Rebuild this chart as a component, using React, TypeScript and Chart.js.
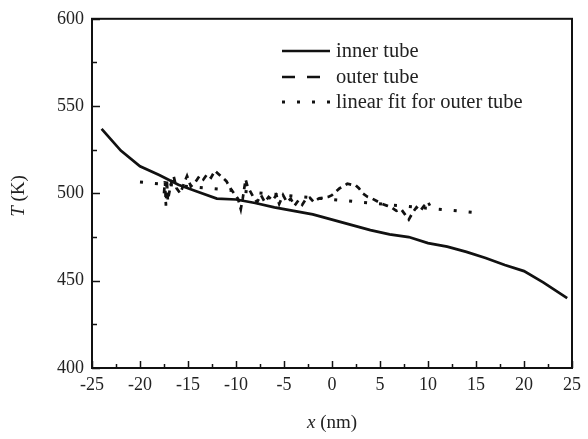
import React, { useEffect, useRef } from "react";
import { Chart, registerables } from "chart.js";

Chart.register(...registerables);

// ---- data ----
const innerX = [-24, -22, -20, -18, -16, -14, -12, -10, -8, -6, -4, -2, 0, 2, 4, 6, 8, 10, 12, 14, 16, 18, 20, 22, 24.5];
const innerT = [537, 524.5, 515.5, 510.5, 505, 501, 497, 496.5, 494.5, 492, 490, 488, 485, 482, 479, 476.5, 475, 471.5, 469.5, 466.5, 463, 459, 455.5, 449, 440];

const outerX = [
  -17.5, -17.4, -17.3, -17.2, -17.1, -16.8, -16.5, -16.2, -15.8, -15.4, -15.1, -14.7, -14.3, -13.8, -13.4, -13.0,
  -12.6, -12.2, -11.8, -11.4, -11.0, -10.6, -10.2, -9.8, -9.5, -9.3, -9.0, -8.8, -8.5, -8.2, -7.8, -7.4, -7.0,
  -6.6, -6.2, -5.8, -5.5, -5.1, -4.7, -4.3, -3.9, -3.5, -3.1, -2.7, -2.3, -1.9, -1.4, -0.9, -0.4, 0.0, 0.4, 0.8,
  1.2, 1.6, 2.0, 2.4, 2.8, 3.2, 3.7, 4.2, 4.7, 5.2, 5.7, 6.2, 6.7, 7.2, 7.6, 8.0, 8.4, 8.8, 9.2, 9.6, 10.0, 10.2,
];
const outerT = [
  500, 507, 493, 508, 496, 505, 510, 503, 500, 506, 510, 504, 506, 510, 508, 511,
  509, 513, 511, 509, 507, 503, 500, 497, 491, 497, 508, 504, 501, 498, 495, 499, 495,
  498, 496, 499, 494, 499, 495, 497, 493, 496, 493.5, 497, 497.5, 495, 497, 497.5, 498, 499, 501, 503,
  504, 505.5, 505, 505, 503, 500, 498, 497, 495.5, 494, 493, 492, 490, 491, 488, 485, 489, 492, 490, 493, 495, 493,
];

const fitX = [-20, 15];
const fitT = [506.5, 489];

const xTickValues = [-25, -20, -15, -10, -5, 0, 5, 10, 15, 20, 25];
const yTickValues = [400, 450, 500, 550, 600];

const seriesNames = ["inner tube", "outer tube", "linear fit for outer tube"];

const FONT = '"Liberation Serif", "Times New Roman", serif';
const INK = "#111";

const toPts = (xs: number[], ys: number[]) => xs.map((x, i) => ({ x, y: ys[i] }));

const decorPlugin = {
  id: "decor",
  afterDraw(chart: any) {
    const { ctx, chartArea: a, scales } = chart;
    const xs = scales.x;
    const ys = scales.y;
    ctx.save();
    // frame
    ctx.strokeStyle = INK;
    ctx.lineWidth = 2;
    ctx.strokeRect(a.left, a.top, a.right - a.left, a.bottom - a.top);
    // ticks (inward)
    ctx.lineWidth = 1.5;
    for (let i = 0; i < xTickValues.length; i++) {
      const v = xTickValues[i];
      const px = Math.round(xs.getPixelForValue(v)) + 0.5;
      ctx.beginPath();
      ctx.moveTo(px, a.bottom);
      ctx.lineTo(px, a.bottom - 7);
      ctx.stroke();
      if (i < xTickValues.length - 1) {
        const m = (v + xTickValues[i + 1]) / 2;
        const pm = Math.round(xs.getPixelForValue(m)) + 0.5;
        ctx.beginPath();
        ctx.moveTo(pm, a.bottom);
        ctx.lineTo(pm, a.bottom - 4);
        ctx.stroke();
      }
    }
    for (let i = 0; i < yTickValues.length; i++) {
      const v = yTickValues[i];
      const py = Math.round(ys.getPixelForValue(v)) + 0.5;
      ctx.beginPath();
      ctx.moveTo(a.left, py);
      ctx.lineTo(a.left + 8, py);
      ctx.stroke();
      if (i < yTickValues.length - 1) {
        const m = (v + yTickValues[i + 1]) / 2;
        const pm = Math.round(ys.getPixelForValue(m)) + 0.5;
        ctx.beginPath();
        ctx.moveTo(a.left, pm);
        ctx.lineTo(a.left + 5, pm);
        ctx.stroke();
      }
    }

    // axis titles
    ctx.fillStyle = "#222";
    ctx.textBaseline = "middle";
    const drawMixed = (parts: [string, boolean][], cx: number, cy: number, size: number) => {
      let total = 0;
      const widths = parts.map(([t, it]) => {
        ctx.font = `${it ? "italic " : ""}${size}px ${FONT}`;
        const w = ctx.measureText(t).width;
        total += w;
        return w;
      });
      let x = cx - total / 2;
      parts.forEach(([t, it], i) => {
        ctx.font = `${it ? "italic " : ""}${size}px ${FONT}`;
        ctx.textAlign = "left";
        ctx.fillText(t, x, cy);
        x += widths[i];
      });
    };
    drawMixed([["x", true], [" (nm)", false]], (a.left + a.right) / 2, 423, 19);
    ctx.save();
    ctx.translate(19, 196);
    ctx.rotate(-Math.PI / 2);
    drawMixed([["T", true], [" (K)", false]], 0, 0, 19);
    ctx.restore();

    // legend
    const lx0 = 282;
    const lx1 = 330;
    const rows = [51, 77, 102];
    ctx.strokeStyle = INK;
    ctx.lineWidth = 2.5;
    ctx.lineCap = "butt";
    ctx.setLineDash([]);
    ctx.beginPath();
    ctx.moveTo(lx0, rows[0]);
    ctx.lineTo(lx1, rows[0]);
    ctx.stroke();
    ctx.setLineDash([13, 12]);
    ctx.beginPath();
    ctx.moveTo(lx0, rows[1]);
    ctx.lineTo(lx1 - 8, rows[1]);
    ctx.stroke();
    ctx.lineWidth = 3;
    ctx.setLineDash([3, 12]);
    ctx.beginPath();
    ctx.moveTo(lx0, rows[2]);
    ctx.lineTo(lx1 + 2, rows[2]);
    ctx.stroke();
    ctx.setLineDash([]);
    ctx.font = `20.5px ${FONT}`;
    ctx.textAlign = "left";
    ctx.fillStyle = "#222";
    seriesNames.forEach((n, i) => ctx.fillText(n, 336, rows[i] + 1));
    ctx.restore();
  },
};

export default function App() {
  const ref = useRef<HTMLCanvasElement | null>(null);
  useEffect(() => {
    document.body.style.margin = "0";
    const canvas = ref.current;
    if (!canvas) return;
    const chart = new Chart(canvas, {
      type: "line",
      data: {
        datasets: [
          {
            label: seriesNames[0],
            data: toPts(innerX, innerT),
            borderColor: INK,
            borderWidth: 2.7,
            pointRadius: 0,
            tension: 0,
          },
          {
            label: seriesNames[1],
            data: toPts(outerX, outerT),
            borderColor: INK,
            borderWidth: 2.7,
            borderDash: [6, 5],
            pointRadius: 0,
            tension: 0,
          },
          {
            label: seriesNames[2],
            data: toPts(fitX, fitT),
            borderColor: INK,
            borderWidth: 3,
            borderDash: [3, 12],
            pointRadius: 0,
            tension: 0,
          },
        ],
      },
      options: {
        animation: false,
        responsive: false,
        maintainAspectRatio: false,
        layout: { padding: { top: 13, right: 16, left: 0, bottom: 0 } },
        plugins: { legend: { display: false }, tooltip: { enabled: false } },
        scales: {
          x: {
            type: "linear",
            min: -25,
            max: 25,
            afterBuildTicks: (s: any) => {
              s.ticks = xTickValues.map((v) => ({ value: v }));
            },
            afterFit: (s: any) => {
              s.height = 71;
            },
            grid: { display: false, drawTicks: false },
            border: { display: false },
            ticks: {
              font: { family: FONT, size: 18 },
              color: "#222",
              padding: 6,
              maxRotation: 0,
            },
          },
          y: {
            type: "linear",
            min: 400,
            max: 600,
            afterBuildTicks: (s: any) => {
              s.ticks = yTickValues.map((v) => ({ value: v }));
            },
            afterFit: (s: any) => {
              s.width = 92;
            },
            grid: { display: false, drawTicks: false },
            border: { display: false },
            ticks: {
              font: { family: FONT, size: 18 },
              color: "#222",
              padding: 8,
            },
          },
        },
      },
      plugins: [decorPlugin],
    });
    return () => chart.destroy();
  }, []);
  return (
    <div style={{ width: 588, height: 439, background: "#fff" }}>
      <canvas ref={ref} width={588} height={439} style={{ display: "block" }} />
    </div>
  );
}
